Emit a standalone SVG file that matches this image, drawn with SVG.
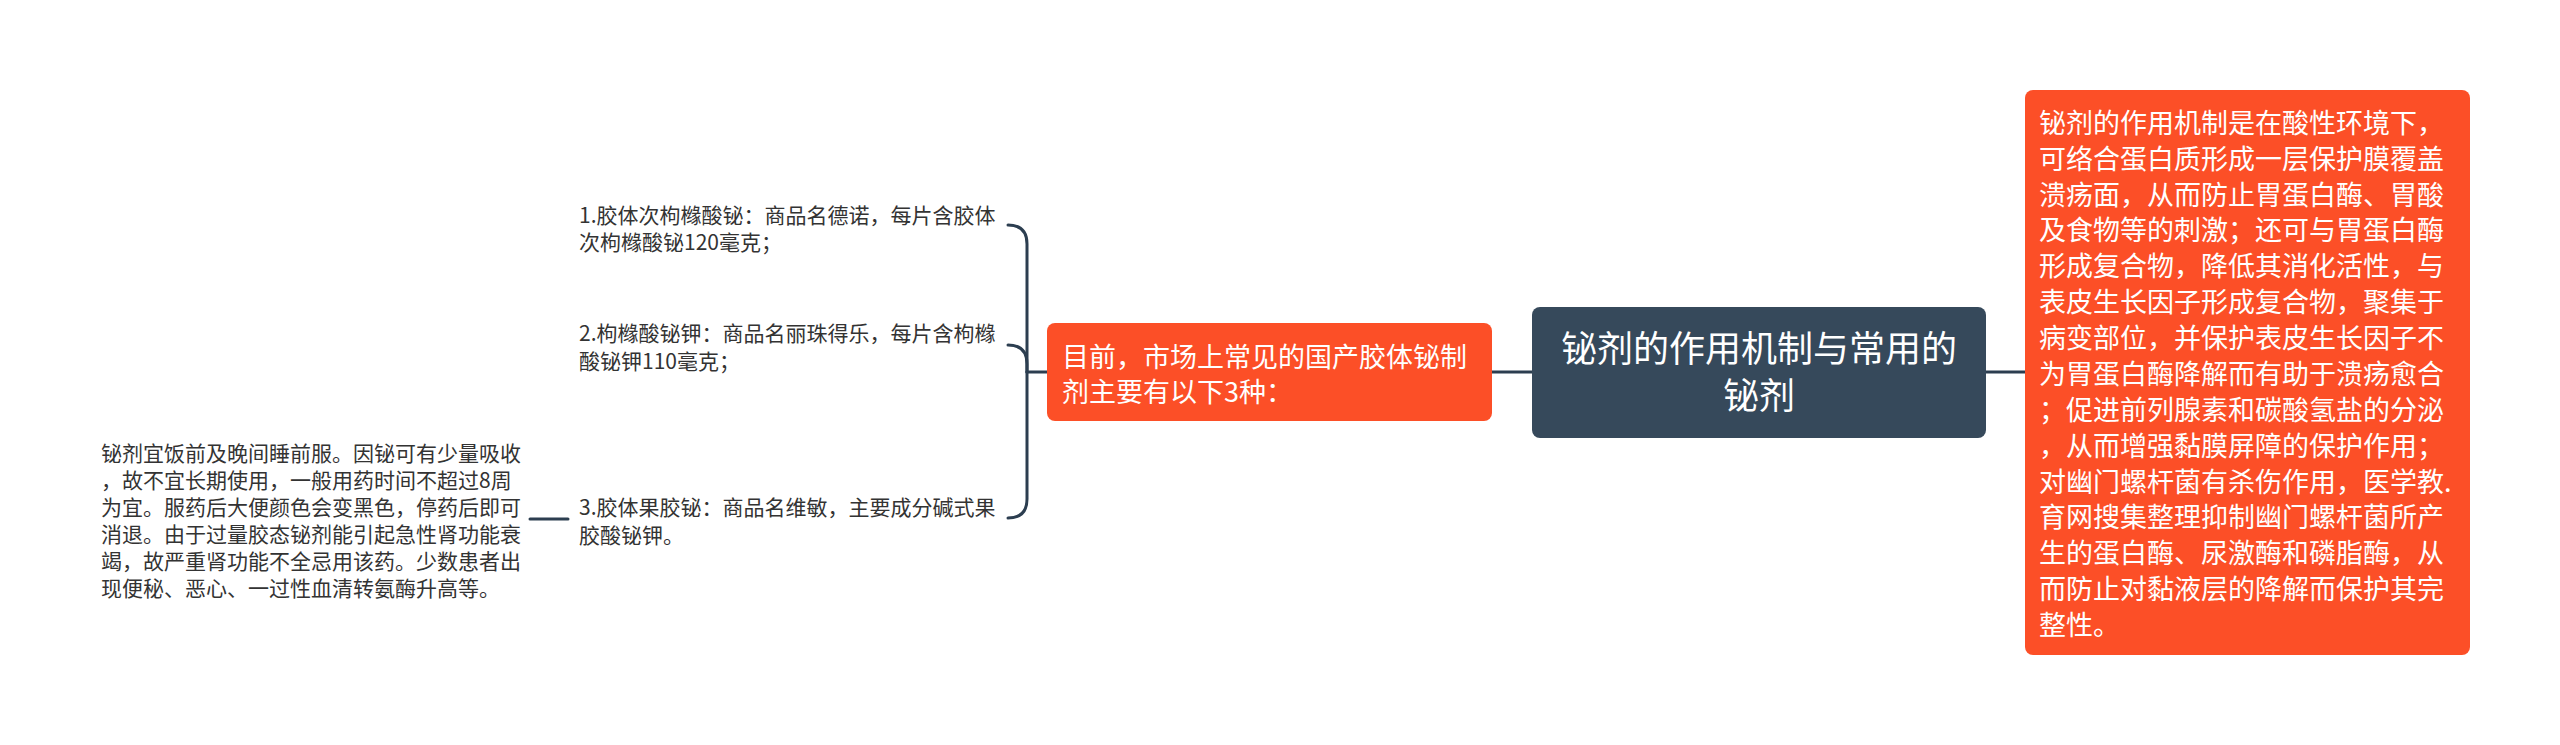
<svg xmlns="http://www.w3.org/2000/svg" width="2560" height="745" viewBox="0 0 2560 745">
<style>
.t{font-family:"Noto Sans CJK SC","Noto Sans",sans-serif;}
.s{font-size:21px;fill:#333333;}
.w{font-size:27px;fill:#ffffff;}
.c{font-size:36px;fill:#ffffff;text-anchor:middle;}
.ln{fill:none;stroke:#2c3e50;stroke-width:3;stroke-linecap:round;}
.or{fill:#fc4f27;}
</style>
<rect width="2560" height="745" fill="#ffffff"/>
<g id="connectors">
<path class="ln" d="M1986,372 L2025,372"/>
<path class="ln" d="M1492,372 L1532,372"/>
<path class="ln" d="M1027,372 L1047,372"/>
<path class="ln" d="M1008,225 Q1027,225 1027,244 L1027,372"/>
<path class="ln" d="M1008,345 Q1027,345 1027,364 L1027,372"/>
<path class="ln" d="M1008,518 Q1027,518 1027,499 L1027,372"/>
<path class="ln" d="M530,519 L568,519"/>
</g>
<g id="root">
<rect x="1532" y="307" width="454" height="131" rx="8" fill="#36495b"/>
<text class="t c" x="1759" y="362">铋剂的作用机制与常用的</text>
<text class="t c" x="1759" y="409">铋剂</text>
</g>
<g id="mechanism">
<rect class="or" x="2025" y="90" width="445" height="565" rx="8"/>
<text class="t w" x="2039">
<tspan x="2039" y="133">铋剂的作用机制是在酸性环境下，</tspan>
<tspan x="2039" y="169">可络合蛋白质形成一层保护膜覆盖</tspan>
<tspan x="2039" y="205">溃疡面，从而防止胃蛋白酶、胃酸</tspan>
<tspan x="2039" y="240">及食物等的刺激；还可与胃蛋白酶</tspan>
<tspan x="2039" y="276">形成复合物，降低其消化活性，与</tspan>
<tspan x="2039" y="312">表皮生长因子形成复合物，聚集于</tspan>
<tspan x="2039" y="348">病变部位，并保护表皮生长因子不</tspan>
<tspan x="2039" y="384">为胃蛋白酶降解而有助于溃疡愈合</tspan>
<tspan x="2039" y="420">；促进前列腺素和碳酸氢盐的分泌</tspan>
<tspan x="2039" y="456">，从而增强黏膜屏障的保护作用；</tspan>
<tspan x="2039" y="492">对幽门螺杆菌有杀伤作用，医学教.</tspan>
<tspan x="2039" y="527">育网搜集整理抑制幽门螺杆菌所产</tspan>
<tspan x="2039" y="563">生的蛋白酶、尿激酶和磷脂酶，从</tspan>
<tspan x="2039" y="599">而防止对黏液层的降解而保护其完</tspan>
<tspan x="2039" y="635">整性。</tspan>
</text>
</g>
<g id="types">
<rect class="or" x="1047" y="323" width="445" height="98" rx="8"/>
<text class="t w" x="1062">
<tspan x="1062" y="367">目前，市场上常见的国产胶体铋制</tspan>
<tspan x="1062" y="402">剂主要有以下3种：</tspan>
</text>
</g>
<g id="item1">
<text class="t s" x="579">
<tspan x="579" y="223">1.胶体次枸橼酸铋：商品名德诺，每片含胶体</tspan>
<tspan x="579" y="250">次枸橼酸铋120毫克；</tspan>
</text>
</g>
<g id="item2">
<text class="t s" x="579">
<tspan x="579" y="341">2.枸橼酸铋钾：商品名丽珠得乐，每片含枸橼</tspan>
<tspan x="579" y="369">酸铋钾110毫克；</tspan>
</text>
</g>
<g id="item3">
<text class="t s" x="579">
<tspan x="579" y="515">3.胶体果胶铋：商品名维敏，主要成分碱式果</tspan>
<tspan x="579" y="543">胶酸铋钾。</tspan>
</text>
</g>
<g id="usage">
<text class="t s" x="101">
<tspan x="101" y="461">铋剂宜饭前及晚间睡前服。因铋可有少量吸收</tspan>
<tspan x="101" y="488">，故不宜长期使用，一般用药时间不超过8周</tspan>
<tspan x="101" y="515">为宜。服药后大便颜色会变黑色，停药后即可</tspan>
<tspan x="101" y="542">消退。由于过量胶态铋剂能引起急性肾功能衰</tspan>
<tspan x="101" y="569">竭，故严重肾功能不全忌用该药。少数患者出</tspan>
<tspan x="101" y="596">现便秘、恶心、一过性血清转氨酶升高等。</tspan>
</text>
</g>
</svg>
